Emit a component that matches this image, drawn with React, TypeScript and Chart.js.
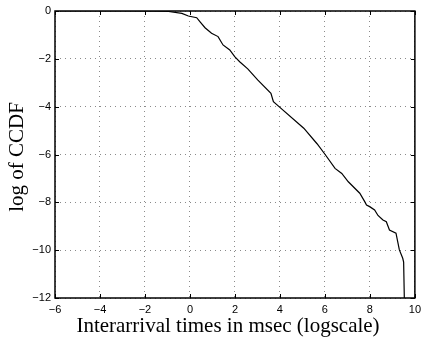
import React, { useEffect, useRef } from "react";
import { Chart, registerables } from "chart.js";

Chart.register(...registerables);

const xValues = [-5.8, -3, -1.5, -0.95, -0.36, -0.07, 0.3, 0.45, 0.67, 0.96, 1.25, 1.47, 1.77, 1.99, 2.21, 2.57, 3.01, 3.6, 3.71, 3.96, 5.06, 5.65, 6.01, 6.45, 6.75, 7.04, 7.55, 7.77, 7.85, 7.99, 8.21, 8.36, 8.58, 8.73, 8.87, 9.16, 9.31, 9.46, 9.5, 9.53];
const yValues = [0, 0, -0.005, -0.02, -0.1, -0.21, -0.28, -0.45, -0.7, -0.93, -1.07, -1.42, -1.63, -1.91, -2.12, -2.42, -2.88, -3.44, -3.79, -4.0, -4.9, -5.55, -6.0, -6.58, -6.79, -7.14, -7.62, -7.97, -8.11, -8.18, -8.32, -8.55, -8.74, -8.81, -9.16, -9.29, -9.99, -10.34, -10.5, -12];

const xTicks = [-6, -4, -2, 0, 2, 4, 6, 8, 10];
const yTicks = [-12, -10, -8, -6, -4, -2, 0];

const xTitle = "Interarrival times in msec (logscale)";
const yTitle = "log of CCDF";

const fmt = (v: number) => String(v).replace("-", "\u2212");

const matlabPlugin = {
  id: "matlabBox",
  afterDraw(chart: any) {
    const { ctx, chartArea } = chart;
    const { left, right, top, bottom } = chartArea;
    const xs = chart.scales.x;
    const ys = chart.scales.y;
    ctx.save();
    ctx.strokeStyle = "#000";
    ctx.lineWidth = 1.5;
    ctx.strokeRect(left, top, right - left, bottom - top);
    ctx.lineWidth = 1;
    const tl = 4;
    ctx.beginPath();
    xTicks.forEach((t) => {
      const px = Math.round(xs.getPixelForValue(t)) + 0.5;
      ctx.moveTo(px, bottom);
      ctx.lineTo(px, bottom - tl);
      ctx.moveTo(px, top);
      ctx.lineTo(px, top + tl);
    });
    yTicks.forEach((t) => {
      const py = Math.round(ys.getPixelForValue(t)) + 0.5;
      ctx.moveTo(left, py);
      ctx.lineTo(left + tl, py);
      ctx.moveTo(right, py);
      ctx.lineTo(right - tl, py);
    });
    ctx.stroke();
    ctx.fillStyle = "#000";
    ctx.font = "21px 'Liberation Serif'";
    ctx.textAlign = "center";
    ctx.textBaseline = "middle";
    ctx.fillText(xTitle, 228, 326);
    ctx.translate(17, 157);
    ctx.rotate(-Math.PI / 2);
    ctx.fillText(yTitle, 0, 0);
    ctx.restore();
  },
};

export default function App() {
  const ref = useRef<HTMLCanvasElement | null>(null);
  useEffect(() => {
    if (!ref.current) return;
    const chart = new Chart(ref.current, {
      type: "line",
      data: {
        datasets: [
          {
            data: xValues.map((x, i) => ({ x, y: yValues[i] })),
            borderColor: "#000",
            borderWidth: 1.2,
            pointRadius: 0,
            fill: false,
            tension: 0,
          },
        ],
      },
      options: {
        animation: false,
        responsive: false,
        layout: { padding: { top: 11, right: 7, left: 0, bottom: 0 } },
        plugins: { legend: { display: false }, tooltip: { enabled: false } },
        scales: {
          x: {
            type: "linear",
            min: -6,
            max: 10,
            afterFit: (s: any) => {
              s.height = 40;
            },
            afterBuildTicks: (s: any) => {
              s.ticks = xTicks.map((v) => ({ value: v }));
            },
            border: { display: false, dash: [1, 4] },
            grid: { color: "#8a8a8a", lineWidth: 1, drawTicks: false },
            ticks: {
              padding: 5,
              color: "#000",
              maxRotation: 0,
              font: { family: "'Liberation Sans'", size: 11 },
              callback: (v: any) => fmt(v),
            },
          },
          y: {
            type: "linear",
            min: -12,
            max: 0,
            afterFit: (s: any) => {
              s.width = 55;
            },
            afterBuildTicks: (s: any) => {
              s.ticks = yTicks.map((v) => ({ value: v }));
            },
            border: { display: false, dash: [1, 4] },
            grid: { color: "#8a8a8a", lineWidth: 1, drawTicks: false },
            ticks: {
              padding: 4,
              color: "#000",
              font: { family: "'Liberation Sans'", size: 11 },
              callback: (v: any) => fmt(v),
            },
          },
        },
      },
      plugins: [matlabPlugin],
    } as any);
    return () => chart.destroy();
  }, []);
  return (
    <div style={{ position: "absolute", left: 0, top: 0, width: 426, height: 338, background: "#fff" }}>
      <canvas ref={ref} width={426} height={338} style={{ width: 426, height: 338 }} />
    </div>
  );
}
